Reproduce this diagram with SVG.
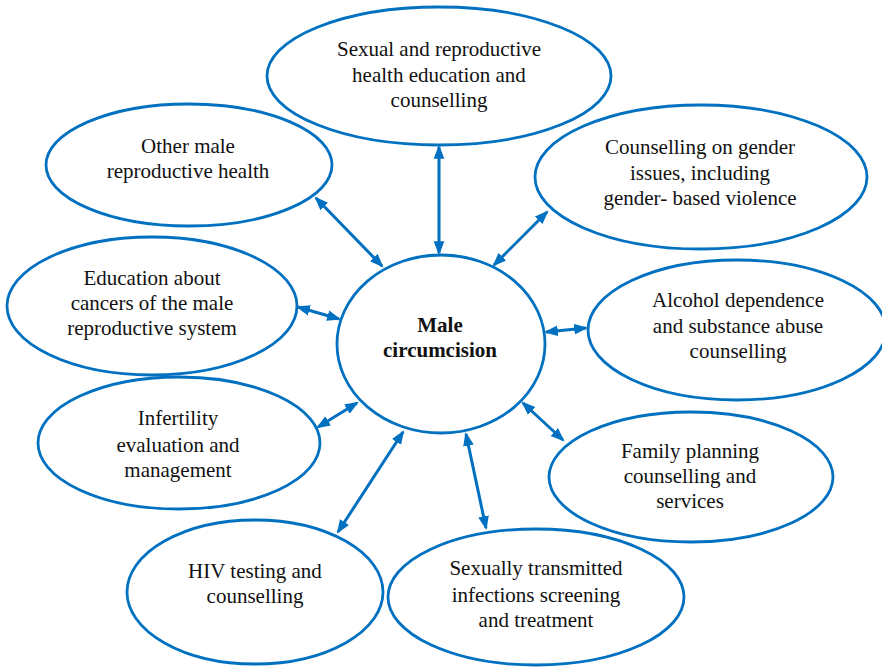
<svg xmlns="http://www.w3.org/2000/svg" width="882" height="667" viewBox="0 0 882 667" font-family="'Liberation Serif', Tinos, 'Times New Roman', Times, 'Noto Serif', 'DejaVu Serif', serif">
<style>
.n ellipse{fill:#fff;stroke:#0070C0;stroke-width:2.8}
text{font-family:'Liberation Serif', Tinos, 'Times New Roman', Times, 'Noto Serif', 'DejaVu Serif', serif;font-size:21px;fill:#111;text-anchor:middle}
.b{font-weight:bold}
.c line{stroke:#0070C0;stroke-width:3;marker-start:url(#ah);marker-end:url(#ah)}
</style>
<defs>
<marker id="ah" markerUnits="userSpaceOnUse" markerWidth="14" markerHeight="12" refX="11" refY="5" orient="auto-start-reverse" viewBox="0 0 13 10">
<path d="M0,0 L13,5 L0,10 z" fill="#0070C0"/>
</marker>
</defs>
<rect width="882" height="667" fill="#fff"/>
<g class="c" id="connectors">
<line x1="439" y1="147" x2="439" y2="253"/>
<line x1="316" y1="198" x2="382" y2="266"/>
<line x1="547" y1="212" x2="494" y2="265"/>
<line x1="298" y1="307" x2="339" y2="319"/>
<line x1="546" y1="332" x2="586" y2="328"/>
<line x1="318" y1="427" x2="357" y2="403"/>
<line x1="338" y1="532" x2="403" y2="432"/>
<line x1="466" y1="434" x2="486" y2="528"/>
<line x1="523" y1="403" x2="563" y2="440"/>
</g>
<g class="n" id="n-top">
<ellipse cx="439" cy="76" rx="172" ry="69"/>
<text x="439" y="56">Sexual and reproductive</text>
<text x="439" y="82">health education and</text>
<text x="439" y="107">counselling</text>
</g>
<g class="n" id="n-other">
<ellipse cx="189" cy="165" rx="143" ry="61"/>
<text x="188" y="153">Other male</text>
<text x="188" y="178">reproductive health</text>
</g>
<g class="n" id="n-gender">
<ellipse cx="701" cy="177" rx="166" ry="72"/>
<text x="700" y="154">Counselling on gender</text>
<text x="700" y="180">issues, including</text>
<text x="700" y="205">gender- based violence</text>
</g>
<g class="n" id="n-cancer">
<ellipse cx="152" cy="306" rx="145" ry="69"/>
<text x="152" y="285">Education about</text>
<text x="152" y="310">cancers of the male</text>
<text x="152" y="335">reproductive system</text>
</g>
<g class="n" id="n-alcohol">
<ellipse cx="737" cy="330" rx="149" ry="70"/>
<text x="738" y="307">Alcohol dependence</text>
<text x="738" y="333">and substance abuse</text>
<text x="738" y="358">counselling</text>
</g>
<g class="n" id="n-center">
<ellipse cx="441" cy="344" rx="104" ry="89"/>
<text class="b" x="440" y="332">Male</text>
<text class="b" x="440" y="357">circumcision</text>
</g>
<g class="n" id="n-infertility">
<ellipse cx="179" cy="443" rx="141" ry="66"/>
<text x="178" y="425">Infertility</text>
<text x="178" y="452">evaluation and</text>
<text x="178" y="477">management</text>
</g>
<g class="n" id="n-family">
<ellipse cx="691" cy="477" rx="142" ry="65"/>
<text x="690" y="458">Family planning</text>
<text x="690" y="483">counselling and</text>
<text x="690" y="508">services</text>
</g>
<g class="n" id="n-hiv">
<ellipse cx="255" cy="592" rx="128" ry="72"/>
<text x="255" y="578">HIV testing and</text>
<text x="255" y="603">counselling</text>
</g>
<g class="n" id="n-sti">
<ellipse cx="536" cy="597" rx="148" ry="68"/>
<text x="536" y="575">Sexually transmitted</text>
<text x="536" y="602">infections screening</text>
<text x="536" y="627">and treatment</text>
</g>
</svg>
